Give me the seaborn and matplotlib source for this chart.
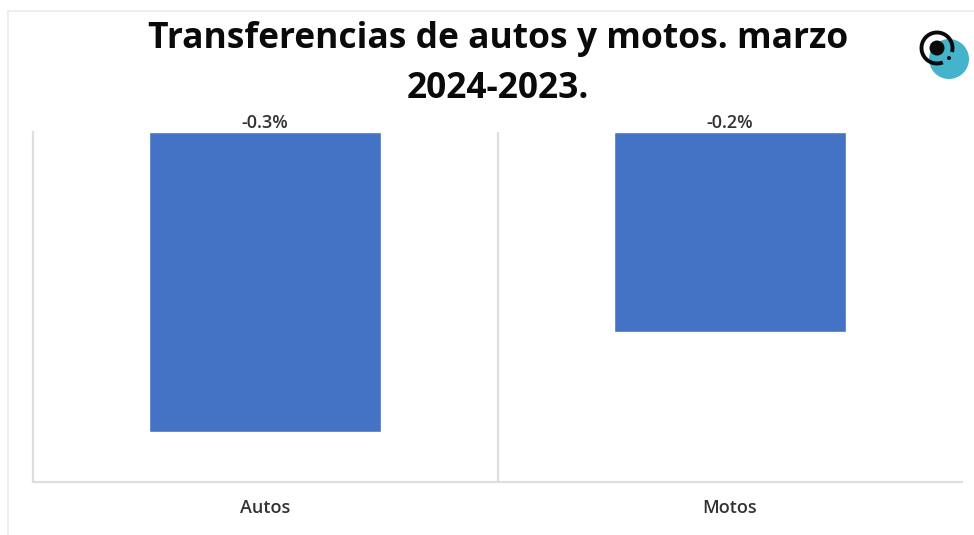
import matplotlib
matplotlib.use("Agg")
import matplotlib.pyplot as plt
import seaborn as sns
import pandas as pd
from matplotlib.patches import Circle, Arc

categories = ["Autos", "Motos"]
values = [-0.3, -0.2]
title = "Transferencias de autos y motos. marzo\n2024-2023."

W, H = 974, 535
sns.set_theme(style="white")
plt.rcParams['font.family'] = ['Open Sans', 'DejaVu Sans']

fig = plt.figure(figsize=(W / 100, H / 100), dpi=100, facecolor="white")
ax = fig.add_axes([33 / W, 1 - 482 / H, (962 - 33) / W, (482 - 131.5) / H])

df = pd.DataFrame({"cat": categories, "val": values})
sns.barplot(data=df, x="cat", y="val", color="#4472C4", saturation=1, width=0.5, ax=ax)
ax.set_xlim(-0.5, 1.5)
ax.set_ylim(-0.35, 0)
ax.set_xlabel("")
ax.set_ylabel("")
ax.set_yticks([])

for s in ["top", "right"]:
    ax.spines[s].set_visible(False)
for s in ["left", "bottom"]:
    ax.spines[s].set_color("#DEDEDE")
    ax.spines[s].set_linewidth(1.6)

# category divider
ax.axvline(0.5, color="#DEDEDE", lw=1.6, zorder=0)

ax.tick_params(axis="x", length=0, pad=12.5, labelsize=13, labelcolor="#333333")
for t in ax.get_xticklabels():
    t.set_fontweight("semibold")

for bar, v in zip(ax.patches, values):
    ax.annotate(f"{v:.1f}%", (bar.get_x() + bar.get_width() / 2, 0),
                xytext=(0, 0), textcoords="offset points", ha="center", va="bottom",
                fontsize=13, fontweight="semibold", color="#333333", annotation_clip=False)

fig.text(498 / W, 1 - 64 / H, title, ha="center", va="center", fontsize=25.5,
         fontweight="bold", color="#0A0A0A", linespacing=1.5)

# chart frame
overlay = fig.add_axes([0, 0, 1, 1], facecolor="none")
overlay.set_xlim(0, W)
overlay.set_ylim(H, 0)
overlay.axis("off")
overlay.plot([8, 8, W], [H, 11, 11], color="#EDEDED", lw=1.5)

# logo
overlay.add_patch(Circle((949, 59), 20, color="#45B3CB", lw=0))
overlay.add_patch(Arc((937, 48), 31, 31, theta1=68, theta2=15, color="#0A0A0A", lw=2.8))
overlay.add_patch(Circle((937, 48), 7.5, color="#0A0A0A", lw=0))
overlay.add_patch(Circle((949, 58), 2, color="#0A0A0A", lw=0))

fig.savefig("out.png", dpi=100)
